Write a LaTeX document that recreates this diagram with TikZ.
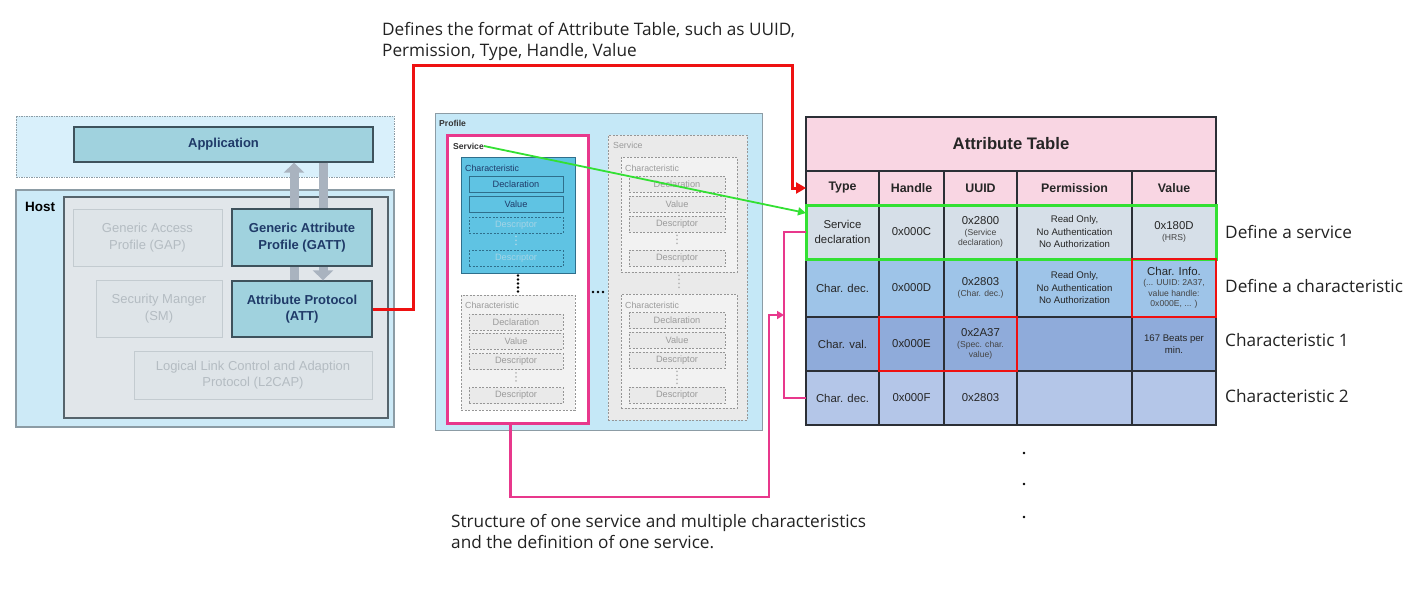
\documentclass[tikz,border=0pt]{standalone}
\usepackage{fontspec}
\setmainfont{Liberation Sans}
\newfontfamily\notefont{Open Sans}
\usetikzlibrary{arrows.meta,positioning}

\definecolor{zonefill}{HTML}{D9F0FB}
\definecolor{hostfill}{HTML}{CDEAF7}
\definecolor{hostin}{HTML}{E1E6EA}
\definecolor{hostline}{HTML}{56646C}
\definecolor{layerfill}{HTML}{A0D2DE}
\definecolor{layerline}{HTML}{3E525C}
\definecolor{layertext}{HTML}{1F3A68}
\definecolor{faintfill}{HTML}{DEE4E8}
\definecolor{faintline}{HTML}{C3CBD0}
\definecolor{fainttext}{HTML}{B4BCC2}
\definecolor{blkarrow}{HTML}{A9B3BF}
\definecolor{proffill}{HTML}{C5E8F7}
\definecolor{profline}{HTML}{8C9CA5}
\definecolor{chfill}{HTML}{5FC3E3}
\definecolor{chline}{HTML}{2F6F8C}
\definecolor{descpale}{HTML}{A4D4E6}
\definecolor{grayfill}{HTML}{EAEAEA}
\definecolor{grayline}{HTML}{969696}
\definecolor{graytext}{HTML}{9A9A9A}
\definecolor{tabpink}{HTML}{F9D6E3}
\definecolor{rowsvc}{HTML}{D6DFE8}
\definecolor{rowdec}{HTML}{9EC4E8}
\definecolor{rowval}{HTML}{8FABDA}
\definecolor{rowdec2}{HTML}{B4C6E8}
\definecolor{gridline}{HTML}{2B2F36}
\definecolor{subtext}{HTML}{444444}
\definecolor{linkred}{HTML}{EE1111}
\definecolor{linkgreen}{HTML}{33E033}
\definecolor{linkpink}{HTML}{E8388C}
\definecolor{notetext}{HTML}{222222}

\newcommand{\lead}[1]{{\fontsize{11.4}{13}\selectfont\color{black!85}#1}}

\tikzset{
  zone/.style={draw=profline, fill=zonefill, line width=1pt, outer sep=0pt},
  hostbox/.style={draw=profline, fill=hostfill, line width=1.5pt},
  hostinner/.style={draw=hostline, fill=hostin, line width=1.5pt},
  layer/.style={draw=layerline, fill=layerfill, line width=1.3pt, align=center, inner sep=1pt,
    text=layertext, font=\bfseries\fontsize{13}{16.5}\selectfont},
  faint/.style={draw=faintline, fill=faintfill, line width=1pt, align=center, inner sep=1pt,
    text=fainttext, font=\fontsize{13}{16.5}\selectfont},
  blockarrow/.style={draw=blkarrow, line width=9pt, -{Triangle[length=10pt,width=20pt]}},
  tlabel/.style={anchor=west, inner sep=0pt, font=\fontsize{8.8}{10}\selectfont},
  svcsel/.style={draw=linkpink, line width=3pt, fill=white},
  svcgray/.style={draw=grayline, dash pattern=on 2pt off 1.5pt, fill=grayfill, line width=0.9pt},
  chblue/.style={draw=chline, fill=chfill, line width=1pt},
  chgray/.style={draw=grayline, dash pattern=on 2pt off 1.5pt, fill=grayfill!60!white, line width=0.9pt},
  bitem/.style={draw=chline, line width=0.9pt, fill=chfill, minimum width=94pt, minimum height=16pt,
    inner sep=0pt, text=layertext, font=\fontsize{9.2}{10}\selectfont},
  bdesc/.style={bitem, dash pattern=on 2pt off 1.5pt, text=descpale},
  gitem/.style={bitem, dash pattern=on 2pt off 1.5pt, draw=grayline, fill=grayfill, text=graytext},
  vdots/.style={line width=2pt, line cap=round, dash pattern=on 0pt off 4pt, shorten >=3pt, shorten <=3pt},
  cell/.style={draw=gridline, line width=1.3pt, outer sep=0pt, inner sep=1pt, align=center,
    text=black!85, font=\fontsize{11.4}{14.5}\selectfont},
  colT/.style={cell, minimum width=73pt},
  colH/.style={cell, minimum width=65pt},
  colU/.style={cell, minimum width=73pt},
  colP/.style={cell, minimum width=115pt},
  colV/.style={cell, minimum width=84pt},
  hdr/.style={fill=tabpink, minimum height=34pt, font=\bfseries\fontsize{12.4}{14}\selectfont},
  rs/.style={fill=rowsvc, minimum height=54pt},
  rd/.style={fill=rowdec, minimum height=58pt},
  rv/.style={fill=rowval, minimum height=54pt},
  rc/.style={fill=rowdec2, minimum height=54pt},
  perm/.style={font=\fontsize{9.6}{12.5}\selectfont},
  subt/.style={text=subtext, font=\fontsize{8.6}{10.5}\selectfont},
  note/.style={inner sep=0pt, align=left, text=notetext, font=\notefont\fontsize{17.2}{21}\selectfont},
  attlink/.style={draw=linkred, line width=3pt, -{Triangle[length=10pt,width=11pt]}},
  svclink/.style={draw=linkgreen, line width=1.8pt, -{Triangle[length=8pt,width=8pt]}},
  pinkline/.style={draw=linkpink, line width=2.6pt},
  hlgreen/.style={draw=linkgreen, line width=3pt},
  hlred/.style={draw=linkred, line width=2.6pt}
}

\begin{document}
\begin{tikzpicture}[x=1pt,y=-1pt]
\useasboundingbox (0,0) rectangle (1412,594);

% host stack
\node[zone, dash pattern=on 1.5pt off 1pt, minimum width=378pt, minimum height=61pt] (appzone) at (205,146.5) {};
\node[layer, minimum width=299pt, minimum height=35pt] (app) at (223.5,144.5) {Application};
\node[hostbox, minimum width=378pt, minimum height=237pt] (host) at (205,308.5) {};
\node[hostinner, minimum width=324pt, minimum height=221pt] (hostin) at (226,307.5) {};
\node[anchor=west, inner sep=0pt, font=\bfseries\fontsize{13.5}{16}\selectfont] (hostlab) at (25,207) {Host};
\node[faint, minimum width=149pt, minimum height=57pt] (gap) at (147.5,237.5) {Generic Access\\Profile (GAP)};
\node[faint, minimum width=126pt, minimum height=57pt] (sm) at (159,308.5) {Security Manger\\(SM)};
\node[faint, minimum width=238pt, minimum height=48pt] (l2cap) at (253,375) {Logical Link Control and Adaption\\Protocol (L2CAP)};
\node[layer, minimum width=140pt, minimum height=56pt] (att) at (302,309) {Attribute Protocol\\(ATT)};
\coordinate (upA) at ([xshift=-8pt]att.north);
\coordinate (dnA) at ([xshift=21pt]att.north);
\draw[blockarrow] (upA) -- (upA |- app.south);
\draw[blockarrow] (dnA |- app.south) -- (dnA);
\node[layer, minimum width=140pt, minimum height=57pt] (gatt) at (302,237.5) {Generic Attribute\\Profile (GATT)};

% profile
\node[zone, draw=profline, fill=proffill, minimum width=327pt, minimum height=317pt] (profile) at (598.5,271.5) {};
\node[tlabel, font=\bfseries\fontsize{8.6}{10}\selectfont, text=black!80] (proflab) at (439,123) {Profile};
\node[svcsel, minimum width=141pt, minimum height=288pt] (svc1) at (517.5,279) {};
\node[svcgray, minimum width=139pt, minimum height=285pt] (svc2) at (677.5,277.5) {};
\node[tlabel, font=\bfseries\fontsize{8.6}{10}\selectfont, text=black!80] (svc1lab) at (453,146) {Service};
\node[tlabel, text=graytext] (svc2lab) at (613,145) {Service};
\node[chblue, minimum width=114pt, minimum height=116pt] (ch1) at (518,215) {};
\node[chgray, minimum width=114pt, minimum height=115pt] (ch2) at (518,352.5) {};
\node[chgray, minimum width=116pt, minimum height=115pt] (ch3) at (679,214.5) {};
\node[chgray, minimum width=116pt, minimum height=114pt] (ch4) at (679,351) {};
\node[tlabel, text=layertext] at (465,168) {Characteristic};
\node[tlabel, text=graytext] at (465,305) {Characteristic};
\node[tlabel, text=graytext] at (625,168) {Characteristic};
\node[tlabel, text=graytext] at (625,305) {Characteristic};
\foreach \s/\n/\yy/\t in {bitem/dcl/184.5/Declaration, bitem/val/204/Value, bdesc/dsa/225/Descriptor, bdesc/dsb/258.5/Descriptor}
  \node[\s] (ch1-\n) at (516,\yy) {\t};
\foreach \n/\yy/\t in {dcl/322/Declaration, val/341/Value, dsa/361.5/Descriptor, dsb/395.5/Descriptor}
  \node[gitem] (ch2-\n) at (516,\yy) {\t};
\foreach \n/\yy/\t in {dcl/184/Declaration, val/204/Value, dsa/224/Descriptor, dsb/258/Descriptor}
  \node[gitem, minimum width=96pt] (ch3-\n) at (677,\yy) {\t};
\foreach \n/\yy/\t in {dcl/320.5/Declaration, val/340/Value, dsa/360/Descriptor, dsb/395/Descriptor}
  \node[gitem, minimum width=96pt] (ch4-\n) at (677,\yy) {\t};
\draw[vdots, draw=descpale] (ch1-dsa) -- (ch1-dsb);
\foreach \c in {ch2,ch3,ch4}
  \draw[vdots, draw=graytext!70] (\c-dsa) -- (\c-dsb);
\draw[vdots, line width=2.6pt, shorten >=2pt, shorten <=2pt] (ch1) -- (ch2);
\draw[vdots, draw=graytext!70] (ch3) -- (ch4);
\foreach \xx in {593,598,603}
  \fill (\xx,292) circle (1.4pt);

% attribute table
\node[cell, fill=tabpink, minimum width=410pt, minimum height=54pt, font=\bfseries\fontsize{16.7}{20}\selectfont] (title) at (1011,144) {Attribute Table};
\node[colT, hdr] (hdT) at (842.5,188) {Type};
\node[colH, hdr] (hdH) at (911.5,188) {Handle};
\node[colU, hdr] (hdU) at (980.5,188) {UUID};
\node[colP, hdr] (hdP) at (1074.5,188) {Permission};
\node[colV, hdr] (hdV) at (1174,188) {Value};

\node[colT, rs] (sT) at (842.5,232) {Service\\declaration};
\node[colH, rs] (sH) at (911.5,232) {0x000C};
\node[colU, rs, subt] (sU) at (980.5,232) {\lead{0x2800}\\(Service\\declaration)};
\node[colP, rs, perm] (sP) at (1074.5,232) {Read Only,\\No Authentication\\No Authorization};
\node[colV, rs, subt] (sV) at (1174,232) {\lead{0x180D}\\(HRS)};

\node[colT, rd] (dT) at (842.5,288) {Char. dec.};
\node[colH, rd] (dH) at (911.5,288) {0x000D};
\node[colU, rd, subt] (dU) at (980.5,288) {\lead{0x2803}\\(Char. dec.)};
\node[colP, rd, perm] (dP) at (1074.5,288) {Read Only,\\No Authentication\\No Authorization};
\node[colV, rd, subt] (dV) at (1174,288) {\lead{Char. Info.}\\(... UUID: 2A37,\\value handle:\\0x000E, ... )};

\node[colT, rv] (vT) at (842.5,344) {Char. val.};
\node[colH, rv] (vH) at (911.5,344) {0x000E};
\node[colU, rv, subt] (vU) at (980.5,344) {\lead{0x2A37}\\(Spec. char.\\value)};
\node[colP, rv] (vP) at (1074.5,344) {};
\node[colV, rv, perm] (vV) at (1174,344) {167 Beats per\\min.};

\node[colT, rc] (cT) at (842.5,398) {Char. dec.};
\node[colH, rc] (cH) at (911.5,398) {0x000F};
\node[colU, rc] (cU) at (980.5,398) {0x2803};
\node[colP, rc] (cP) at (1074.5,398) {};
\node[colV, rc] (cV) at (1174,398) {};

\draw[hlgreen] (sT.north west) rectangle (sV.south east);
\draw[hlred] (dV.north west) rectangle (dV.south east);
\draw[hlred] (vH.north west) rectangle (vU.south east);

% row labels
\node[note, right=9pt of sV] (lsvc) {Define a service};
\node[note, right=9pt of dV, yshift=2pt] (ldec) {Define a characteristic};
\node[note, right=9pt of vV, yshift=4pt] (lc1) {Characteristic 1};
\node[note, right=9pt of cV, yshift=2pt] (lc2) {Characteristic 2};
\foreach \yy in {453,484,517}
  \fill (1024,\yy) circle (1.4pt);

% notes and links
\node[note, anchor=north west] (fmtnote) at (382,22) {Defines the format of Attribute Table, such as UUID,\\Permission, Type, Handle, Value};
\node[note, anchor=north west] (svcnote) at (451,514) {Structure of one service and multiple characteristics\\and the definition of one service.};
\coordinate (brk) at (784,315);
\draw[attlink] (att.east) -- ++(41,0) |- (792,65) |- (hdT.west);
\draw[svclink] (svc1lab.east) -- ([yshift=-8pt]sT.north west);
\draw[pinkline] (sT.west) -- ++(-22,0) |- (cT.west);
\draw[pinkline, -{Triangle[length=7pt,width=8pt]}] ([xshift=-7pt]svc1.south) |- (769,497) |- (brk);
\end{tikzpicture}
\end{document}
